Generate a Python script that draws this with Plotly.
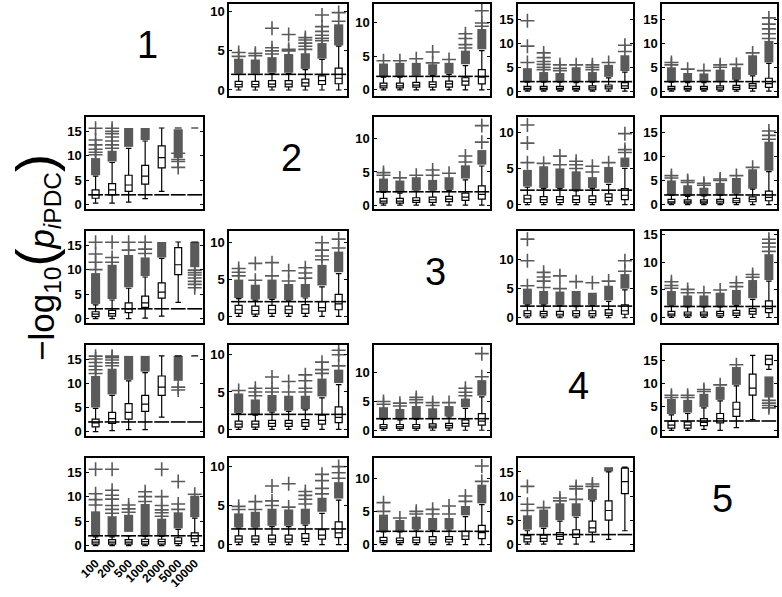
import plotly.graph_objects as go

# ---------------- data ----------------
CATEGORIES = ["100", "200", "500", "1000", "2000", "5000", "10000"]
POS = [1, 2, 3, 4, 5, 6, 7]
THRESHOLD = 2.0  # -log10(0.01)
DIAG_LABELS = ["1", "2", "3", "4", "5"]
PANELS = ["12", "13", "14", "15", "21", "23", "24", "25", "31", "32",
          "34", "35", "41", "42", "43", "45", "51", "52", "53", "54"]

Y_RANGE = {
    "12": [-0.77, 11.0], "13": [-0.9, 12.7], "14": [-1.0, 18.2], "15": [-1.0, 18.2],
    "21": [-0.9, 17.9], "23": [-0.6, 13.3], "24": [-0.6, 12.1], "25": [-0.9, 18.1],
    "31": [-0.9, 17.9], "32": [-0.9, 11.6], "34": [-0.9, 14.9], "35": [-1.0, 15.7],
    "41": [-0.9, 17.9], "42": [-0.9, 11.3], "43": [-1.0, 14.8], "45": [-1.2, 18.2],
    "51": [-0.9, 17.9], "52": [-0.7, 11.1], "53": [-0.8, 13.0], "54": [-1.2, 17.9],
}

WHISK_LO = {
    "21": [0.3, 0.3, 0.5, 1.2, 2.7, 15.65, 15.65],
    "31": [0, 0, 0, 0.1, 0.5, 3.3, 15.65],
    "41": [0, 0.2, 0.4, 0.4, 3.0, 15.65, 15.65],
    "45": [0, 0, 0.2, 0, 0.6, 2.3, 13.0],
    "54": [0, 0, 0, 0, 0.5, 1.0, 2.8],
}
Q1 = {
    "12": [0.4, 0.4, 0.4, 0.4, 0.5, 0.7, 0.8],
    "13": [0.3, 0.3, 0.4, 0.4, 0.4, 0.7, 0.9],
    "14": [0.3, 0.3, 0.3, 0.3, 0.3, 0.5, 0.6],
    "15": [0.3, 0.3, 0.3, 0.3, 0.4, 0.6, 0.8],
    "21": [1.3, 2.0, 2.7, 4.2, 7.5, 15.65, 15.65],
    "23": [0.3, 0.3, 0.4, 0.4, 0.5, 0.7, 0.9],
    "24": [0.3, 0.3, 0.3, 0.3, 0.3, 0.5, 0.7],
    "25": [0.3, 0.3, 0.3, 0.3, 0.4, 0.6, 0.8],
    "31": [0.4, 0.5, 1.2, 2.3, 4.2, 9.0, 15.65],
    "32": [0.4, 0.3, 0.4, 0.4, 0.4, 0.7, 0.9],
    "34": [0.3, 0.3, 0.3, 0.3, 0.3, 0.4, 0.6],
    "35": [0.3, 0.3, 0.3, 0.3, 0.4, 0.6, 0.9],
    "41": [1.0, 1.7, 2.6, 4.2, 7.5, 15.65, 15.65],
    "42": [0.3, 0.3, 0.4, 0.4, 0.4, 0.7, 0.9],
    "43": [0.3, 0.3, 0.3, 0.4, 0.4, 0.7, 0.9],
    "45": [0.5, 0.5, 1.0, 1.6, 3.0, 7.5, 14.0],
    "51": [0.3, 0.3, 0.3, 0.3, 0.3, 0.4, 0.8],
    "52": [0.3, 0.3, 0.3, 0.3, 0.4, 0.7, 0.9],
    "53": [0.3, 0.3, 0.3, 0.3, 0.4, 0.8, 0.9],
    "54": [0.5, 0.6, 1.0, 1.4, 2.5, 5.0, 10.5],
}
MEDIAN = {
    "12": [0.7, 0.7, 0.75, 0.75, 0.9, 1.2, 1.5],
    "13": [0.6, 0.6, 0.7, 0.8, 0.9, 1.3, 1.9],
    "14": [0.6, 0.6, 0.6, 0.6, 0.7, 0.9, 1.1],
    "15": [0.6, 0.6, 0.6, 0.7, 0.8, 1.1, 1.6],
    "21": [2.0, 3.0, 4.0, 5.8, 9.6, 15.65, 15.65],
    "23": [0.6, 0.6, 0.7, 0.8, 0.9, 1.2, 1.6],
    "24": [0.8, 0.7, 0.7, 0.7, 0.7, 1.0, 1.3],
    "25": [0.6, 0.6, 0.6, 0.7, 0.8, 1.1, 1.5],
    "31": [0.9, 1.0, 2.0, 3.2, 5.4, 11.0, 15.65],
    "32": [0.9, 0.8, 0.9, 0.9, 1.0, 1.2, 1.7],
    "34": [0.7, 0.7, 0.6, 0.7, 0.7, 0.8, 1.2],
    "35": [0.6, 0.6, 0.6, 0.7, 0.8, 1.1, 1.6],
    "41": [1.8, 2.7, 4.0, 5.7, 9.2, 15.65, 15.65],
    "42": [0.7, 0.7, 0.8, 0.8, 0.9, 1.2, 1.6],
    "43": [0.6, 0.6, 0.6, 0.7, 0.8, 1.2, 1.6],
    "45": [1.1, 1.1, 1.7, 2.5, 4.5, 9.0, 15.2],
    "51": [0.7, 0.7, 0.7, 0.8, 0.8, 0.9, 1.4],
    "52": [0.7, 0.7, 0.7, 0.7, 0.8, 1.2, 1.5],
    "53": [0.6, 0.6, 0.7, 0.7, 0.8, 1.3, 1.8],
    "54": [1.1, 1.2, 1.6, 2.1, 3.4, 7.0, 13.0],
}
Q3 = {
    "12": [1.1, 1.1, 1.2, 1.2, 1.4, 1.8, 2.8],
    "13": [1.0, 1.0, 1.1, 1.2, 1.3, 1.8, 3.0],
    "14": [1.0, 1.0, 1.0, 1.0, 1.1, 1.3, 1.8],
    "15": [1.0, 1.0, 1.0, 1.1, 1.2, 1.6, 2.7],
    "21": [3.0, 4.3, 6.0, 8.0, 12.0, 15.65, 15.65],
    "23": [1.0, 1.0, 1.1, 1.2, 1.3, 1.8, 2.9],
    "24": [1.3, 1.1, 1.1, 1.2, 1.2, 1.5, 2.2],
    "25": [1.1, 1.0, 1.0, 1.1, 1.3, 1.6, 2.8],
    "31": [1.4, 1.7, 3.2, 4.6, 7.3, 14.5, 15.65],
    "32": [1.5, 1.4, 1.5, 1.4, 1.6, 2.0, 3.0],
    "34": [1.2, 1.1, 1.1, 1.2, 1.2, 1.4, 2.2],
    "35": [1.1, 1.0, 1.0, 1.1, 1.3, 1.6, 3.0],
    "41": [2.6, 4.0, 5.8, 7.5, 11.5, 15.65, 15.65],
    "42": [1.1, 1.1, 1.2, 1.2, 1.3, 1.9, 3.0],
    "43": [1.0, 1.0, 1.0, 1.1, 1.2, 1.8, 2.9],
    "45": [1.9, 1.8, 2.5, 3.6, 6.0, 12.0, 16.0],
    "51": [1.2, 1.2, 1.2, 1.3, 1.3, 1.6, 2.6],
    "52": [1.1, 1.1, 1.2, 1.2, 1.4, 1.9, 2.9],
    "53": [1.1, 1.0, 1.1, 1.2, 1.2, 2.0, 2.9],
    "54": [1.8, 1.9, 2.4, 3.0, 4.8, 9.0, 15.8],
}
WHISK_HI = {
    "12": [2.0, 2.0, 2.1, 2.1, 2.6, 3.9, 5.6],
    "13": [1.9, 1.9, 2.0, 2.1, 2.3, 3.6, 5.8],
    "14": [1.9, 1.9, 1.9, 1.8, 1.9, 2.8, 4.0],
    "15": [1.9, 1.8, 1.8, 2.0, 2.3, 3.2, 5.8],
    "21": [5.8, 8.6, 11.5, 13.0, 15.65, 15.65, 15.65],
    "23": [1.9, 1.8, 2.1, 2.1, 2.2, 3.8, 5.9],
    "24": [2.4, 2.2, 2.2, 1.9, 2.2, 2.8, 5.0],
    "25": [1.9, 1.7, 1.8, 1.9, 2.2, 3.2, 6.8],
    "31": [2.8, 3.8, 6.2, 8.5, 12.3, 15.65, 15.65],
    "32": [2.4, 2.2, 2.3, 2.1, 2.5, 4.0, 5.8],
    "34": [2.2, 2.2, 2.1, 1.9, 2.1, 2.8, 4.8],
    "35": [2.1, 1.9, 1.9, 1.9, 2.2, 3.3, 6.6],
    "41": [4.8, 7.5, 10.5, 12.2, 15.65, 15.65, 15.65],
    "42": [2.1, 1.9, 2.3, 2.4, 2.6, 4.2, 6.0],
    "43": [1.9, 1.8, 1.9, 2.0, 2.3, 3.8, 5.8],
    "45": [3.3, 3.6, 4.8, 6.3, 9.5, 16.0, 16.0],
    "51": [1.8, 1.8, 2.0, 1.9, 1.9, 3.3, 5.6],
    "52": [2.1, 2.1, 2.3, 2.3, 2.5, 4.0, 5.7],
    "53": [1.9, 1.9, 2.2, 2.1, 2.2, 4.2, 6.0],
    "54": [2.8, 3.3, 4.8, 5.6, 9.0, 15.0, 16.0],
}
# dense run of outliers ("+" markers merge into a solid column): start / end
OUT_BAND_LO = {
    "12": [2.1, 2.1, 2.2, 2.2, 2.7, 4.0, 5.7],
    "13": [2.0, 2.0, 2.1, 2.2, 2.4, 3.8, 6.0],
    "14": [2.0, 2.0, 2.0, 1.9, 2.0, 3.0, 4.2],
    "15": [2.0, 2.0, 1.9, 2.1, 2.4, 3.4, 6.0],
    "21": [6.0, 8.8, 11.8, 13.2, None, 9.5, None],
    "23": [2.0, 1.9, 2.2, 2.2, 2.3, 4.0, 6.1],
    "24": [2.5, 2.3, 2.3, 2.0, 2.3, 3.0, 5.2],
    "25": [2.0, 1.8, 1.9, 2.0, 2.3, 3.3, 7.0],
    "31": [3.0, 4.0, 6.4, 8.7, 12.5, None, 10.5],
    "32": [2.5, 2.3, 2.4, 2.2, 2.6, 4.2, 6.0],
    "34": [2.3, 2.3, 2.2, 2.0, 2.2, 3.0, 5.0],
    "35": [2.2, 2.0, 2.0, 2.0, 2.3, 3.5, 6.8],
    "41": [5.0, 7.7, 10.7, 12.4, None, 10.5, None],
    "42": [2.2, 2.0, 2.4, 2.5, 2.7, 4.4, 6.2],
    "43": [2.0, 1.9, 2.0, 2.1, 2.4, 4.0, 6.0],
    "45": [3.5, 3.8, 5.0, 6.5, 9.7, None, 7.0],
    "51": [2.0, 2.0, 2.8, 2.0, 2.0, 3.5, 5.8],
    "52": [2.2, 2.2, 2.4, 2.4, 2.6, 4.2, 5.9],
    "53": [2.0, 2.0, 2.3, 2.2, 2.3, 4.4, 6.2],
    "54": [3.0, 3.5, 5.0, 5.8, 9.2, 15.1, None],
}
OUT_BAND_HI = {
    "12": [4.0, 3.9, 4.2, 4.6, 4.7, 6.0, 8.4],
    "13": [3.9, 4.0, 4.0, 3.8, 4.0, 5.8, 9.0],
    "14": [4.8, 4.0, 3.8, 5.0, 4.0, 5.5, 7.5],
    "15": [5.0, 3.8, 3.7, 4.5, 5.0, 7.5, 10.5],
    "21": [9.5, 11.0, 15.65, 15.65, None, 15.4, None],
    "23": [4.0, 3.7, 4.2, 3.8, 4.2, 6.0, 8.3],
    "24": [4.8, 5.3, 5.0, 4.6, 3.8, 5.2, 6.5],
    "25": [5.0, 4.0, 3.5, 4.5, 5.5, 7.3, 13.0],
    "31": [9.3, 11.0, 13.0, 12.5, 15.65, None, 15.65],
    "32": [5.0, 4.3, 5.0, 4.4, 4.4, 7.0, 8.8],
    "34": [5.0, 4.6, 4.5, 4.6, 4.3, 5.5, 7.5],
    "35": [4.8, 4.0, 4.0, 4.5, 5.0, 6.8, 11.5],
    "41": [11.5, 13.0, 15.65, 15.65, None, 15.65, None],
    "42": [4.8, 4.0, 4.6, 4.5, 4.5, 6.8, 8.0],
    "43": [4.0, 3.7, 4.2, 3.8, 4.2, 5.5, 8.7],
    "45": [6.7, 6.5, 7.8, 9.3, 13.5, None, 11.5],
    "51": [7.0, 6.0, 6.3, 8.5, 5.5, 6.8, 10.2],
    "52": [4.0, 4.2, 4.6, 4.5, 4.6, 6.0, 8.0],
    "53": [4.5, 3.7, 4.2, 4.0, 4.0, 5.8, 9.0],
    "54": [6.0, 7.2, 8.5, 8.5, 11.5, 16.0, None],
}
# isolated outliers
OUTLIERS = {
    "12": [[4.3, 4.8], [4.4, 4.7], [4.6, 5.0, 5.4, 7.9], [5.0, 5.2, 7.1],
           [5.2, 5.6, 6.0, 6.4, 6.7], [6.3, 6.6, 7.0, 7.5, 8.1, 9.6], [8.8, 9.9]],
    "13": [[4.3], [4.3], [4.6], [4.0, 5.6], [4.5], [6.2, 6.7, 7.6, 8.3], [9.4, 9.9, 11.7]],
    "14": [[6.0, 9.4, 14.7], [4.5, 5.0, 5.6, 6.2, 7.0, 8.0], [4.3, 4.8, 5.5], [5.5],
           [4.5, 5.0, 5.5], [6.0], [8.3, 9.6]],
    "15": [[5.5, 6.0], [4.6], [4.3], [5.0, 5.5], [5.6], [8.0], [11.0, 12.0, 13.0, 14.0, 15.3]],
    "21": [[10.2, 10.7, 11.3, 12.2, 13.2, 15.6], [11.5, 12.2, 13.0, 13.8, 14.5, 15.0, 15.6],
           [], [], [], [7.6, 8.8, 9.2, 10.5], []],
    "23": [[4.5, 4.9], [4.1], [4.5], [4.5, 5.3], [4.8], [6.5, 7.4], [9.5, 12.0]],
    "24": [[5.8, 8.5, 11.0], [5.7], [5.5, 6.7], [5.0, 5.5, 6.0], [4.5, 5.3], [5.8], [7.2, 7.6, 9.8]],
    "25": [[5.5, 6.0], [4.6, 5.0], [4.0, 4.4], [5.0, 5.3], [6.0], [7.7], [13.5, 14.3, 15.2]],
    "31": [[10.0, 11.5, 13.2, 15.6], [11.5, 12.5, 15.6], [14.0, 15.6], [13.3, 14.2, 15.6],
           [], [], [6.3, 7.0, 7.6, 8.3, 8.9, 9.4, 9.9]],
    "32": [[5.5, 6.0, 6.5], [4.9, 7.2], [5.5, 7.3], [4.8, 6.2], [5.2, 5.9, 6.6],
           [7.7, 8.2, 9.0, 10.0], [9.3, 10.5]],
    "34": [[5.5, 9.8, 13.5], [5.2, 6.3, 7.0, 7.8], [5.0, 7.2], [6.2], [6.0], [6.3], [8.0, 9.8]],
    "35": [[5.3, 5.8, 6.5], [4.5, 5.1], [4.5], [5.0], [5.6, 6.3], [7.3, 7.8],
           [12.0, 12.8, 13.5, 14.2]],
    "41": [[12.0, 12.8, 13.5, 14.3, 15.0, 15.6], [13.6, 14.2, 14.8, 15.3, 15.6],
           [], [], [], [8.6, 9.2], []],
    "42": [[5.2], [4.5, 5.0, 5.5], [5.0, 5.5, 7.0], [5.0, 6.4], [5.0, 5.5, 6.5, 7.3],
           [7.5, 8.0, 9.0], [8.5, 10.0, 10.6]],
    "43": [[4.5, 5.0], [4.2, 4.7], [4.8, 5.3, 5.7], [4.3, 4.8], [4.8], [6.0, 6.6, 7.3], [9.3, 13.3]],
    "45": [[7.0, 7.5], [7.0, 7.5], [8.3, 8.7], [9.7], [14.0], [], [4.8, 5.3, 5.8, 6.4]],
    "51": [[8.3, 9.4, 10.6, 15.6], [6.6, 7.4, 8.2, 9.5, 10.3, 11.3, 15.6], [6.8, 7.5, 8.3],
           [9.0, 10.0, 11.0], [6.0, 6.7, 7.3, 8.2, 10.0, 15.6], [7.4, 8.5, 13.1], [10.5]],
    "52": [[4.5, 4.9], [4.5, 5.5], [5.0, 5.6, 7.5], [4.8, 7.8], [5.2, 5.8, 6.3, 6.8],
           [6.5, 7.2, 8.2, 9.0], [8.5, 9.2, 10.0]],
    "53": [[5.0, 6.3], [4.0], [4.6, 5.0], [4.6, 5.3], [4.6, 5.8], [6.5, 7.3], [9.5, 11.8]],
    "54": [[7.0, 8.3, 12.0], [7.6], [9.0, 9.6], [9.3, 11.5, 12.0], [12.0, 12.5], [], []],
}

# ---------------- layout geometry (pixels) ----------------
W, H = 782, 597
COL_PX = [(86, 203), (229, 347), (374, 490), (518, 633), (662, 777)]
ROW_PX = [(4, 96), (117, 209), (231, 323), (345, 436), (458, 550)]
GRAY = "#5a5a5a"
FONT = "Liberation Sans, Arial, sans-serif"

fig = go.Figure()
layout = dict(width=W, height=H, margin=dict(l=0, r=0, t=0, b=0, autoexpand=False),
              paper_bgcolor="white", plot_bgcolor="white", showlegend=False,
              barmode="overlay", annotations=[])

for k, p in enumerate(PANELS, start=1):
    r, c = int(p[0]) - 1, int(p[1]) - 1
    xa = "x" if k == 1 else f"x{k}"
    ya = "y" if k == 1 else f"y{k}"
    xk = "xaxis" if k == 1 else f"xaxis{k}"
    yk = "yaxis" if k == 1 else f"yaxis{k}"
    x0, x1 = COL_PX[c]
    y0, y1 = ROW_PX[r]
    is_label_panel = (p == "51")
    layout[xk] = dict(domain=[x0 / W, x1 / W], range=[0.42, 7.5], anchor=ya,
                      automargin=False,
                      showgrid=False, zeroline=False, showline=True, mirror=True,
                      linecolor="black", linewidth=1.5,
                      tickmode="array", tickvals=POS, ticktext=CATEGORIES,
                      ticks="", showticklabels=is_label_panel, tickangle=-45,
                      tickfont=dict(family=FONT, size=12, color="black", weight="bold"))
    layout[yk] = dict(domain=[1 - y1 / H, 1 - y0 / H], range=Y_RANGE[p], anchor=xa,
                      automargin=False,
                      showgrid=False, zeroline=False, showline=True, mirror="ticks",
                      linecolor="black", linewidth=1.5, ticks="inside", ticklen=3,
                      tickcolor="black", tick0=0, dtick=5,
                      tickfont=dict(family=FONT, size=13, color="black", weight="bold"))

    # threshold segments
    tx, ty = [], []
    for xp in POS:
        tx += [xp - 0.45, xp + 0.45, None]
        ty += [THRESHOLD, THRESHOLD, None]
    fig.add_trace(go.Scatter(x=tx, y=ty, mode="lines", xaxis=xa, yaxis=ya,
                             line=dict(color="black", width=1.6), hoverinfo="skip"))

    # boxes
    wl = WHISK_LO.get(p, [0, 0, 0, 0, 0, 0, 0])
    fig.add_trace(go.Box(x=POS, q1=Q1[p], median=MEDIAN[p], q3=Q3[p],
                         lowerfence=wl, upperfence=WHISK_HI[p],
                         xaxis=xa, yaxis=ya, width=0.42, whiskerwidth=0.8,
                         fillcolor="white", line=dict(color="black", width=1.2),
                         boxpoints=False, hoverinfo="skip"))

    # dense outlier runs
    bx, bb, bh = [], [], []
    for xp, lo, hi in zip(POS, OUT_BAND_LO[p], OUT_BAND_HI[p]):
        if lo is not None and hi is not None:
            bx.append(xp); bb.append(lo); bh.append(hi - lo)
    fig.add_trace(go.Bar(x=bx, y=bh, base=bb, width=0.55, xaxis=xa, yaxis=ya,
                         marker=dict(color=GRAY, line=dict(width=0)), hoverinfo="skip"))

    # isolated outliers
    ox, oy = [], []
    for xp, vals in zip(POS, OUTLIERS[p]):
        ox += [xp] * len(vals); oy += vals
    fig.add_trace(go.Scatter(x=ox, y=oy, mode="markers", xaxis=xa, yaxis=ya,
                             marker=dict(symbol="cross-thin", size=10, color=GRAY,
                                         line=dict(color=GRAY, width=1.6)),
                             hoverinfo="skip"))

# diagonal numbers
for i, lab in enumerate(DIAG_LABELS):
    x0, x1 = COL_PX[i]
    y0, y1 = ROW_PX[i]
    layout["annotations"].append(dict(
        text=lab, xref="paper", yref="paper", x=((x0 + x1) / 2 + 3) / W,
        y=1 - ((y0 + y1) / 2 - 5) / H, showarrow=False, xanchor="center", yanchor="middle",
        font=dict(family=FONT, size=38, color="black")))

# y-axis title
layout["annotations"].append(dict(
    text=("−log<sub>10</sub><span style='font-size:54px'>(</span>"
          "<i>p</i><sub><i>i</i>PDC</sub><span style='font-size:54px'>)</span>"),
    xref="paper", yref="paper", x=35 / W, y=1 - 258 / H, textangle=-90,
    showarrow=False, xanchor="center", yanchor="middle",
    font=dict(family=FONT, size=35, color="black")))

fig.update_layout(**layout)
fig.write_html("out.html", config={"displayModeBar": False},
               post_script="document.body.style.margin='0';"
                           "document.body.style.overflow='hidden';")
